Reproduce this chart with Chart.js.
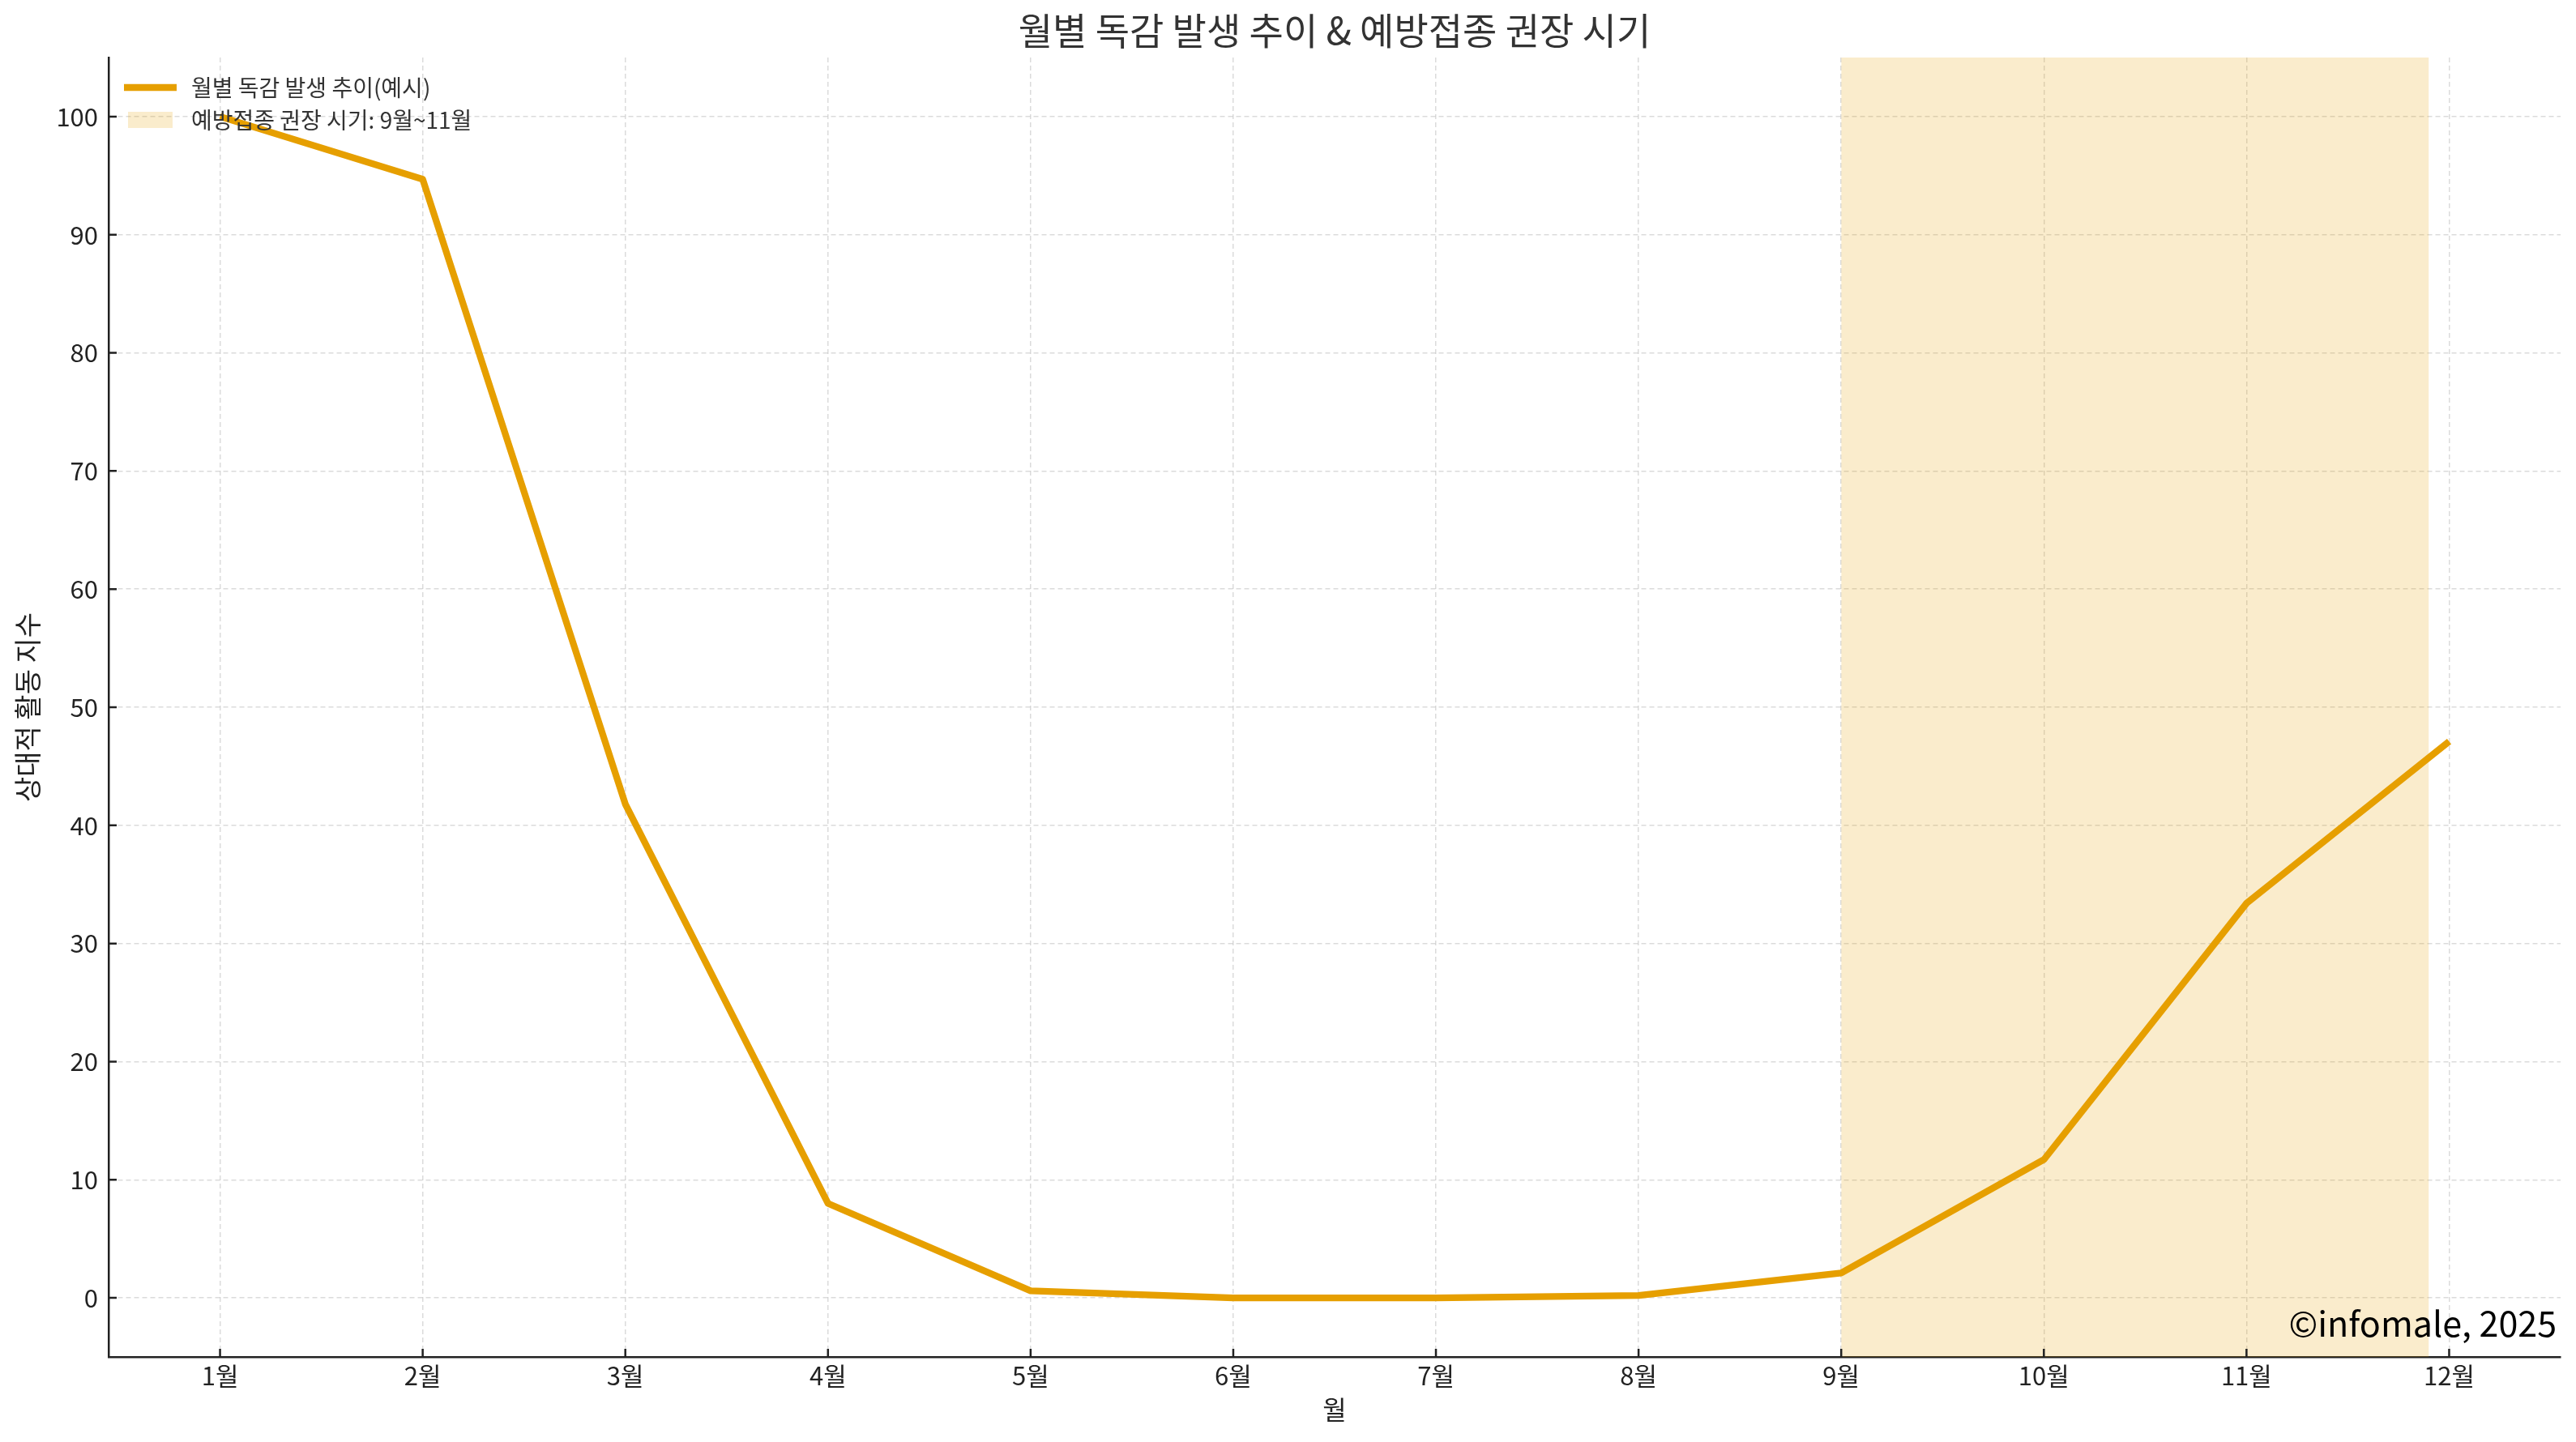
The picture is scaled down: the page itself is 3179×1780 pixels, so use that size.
<!DOCTYPE html>
<html>
<head>
<meta charset="utf-8">
<script src="https://cdn.jsdelivr.net/npm/chart.js@4/dist/chart.umd.min.js"></script>
<style>
  html, body { margin: 0; padding: 0; background: #fff; }
</style>
</head>
<body>
<canvas id="chart" width="3179" height="1780"></canvas>
<script>
// data
var months = ["1월", "2월", "3월", "4월", "5월", "6월", "7월", "8월", "9월", "10월", "11월", "12월"];
var monthNums = [1, 2, 3, 4, 5, 6, 7, 8, 9, 10, 11, 12];
var activity = [100, 94.7, 41.8, 8.0, 0.6, 0.0, 0.0, 0.2, 2.1, 11.7, 33.4, 47.1];
var yTickValues = [0, 10, 20, 30, 40, 50, 60, 70, 80, 90, 100];
var vaccineSpan = [9, 11.9];

var chartTitle = "월별 독감 발생 추이 & 예방접종 권장 시기";
var lineLabel = "월별 독감 발생 추이(예시)";
var spanLabel = "예방접종 권장 시기: 9월~11월";
var lineColor = "#E69F00";
var spanColor = "rgba(230,159,0,0.2)";
var gridColor = "rgba(170,170,170,0.42)";
var FONT = '"Noto Sans CJK KR", "Noto Sans", sans-serif';

var yMin = -5, yMax = 105;

var innerTicks = {
    id: "innerTicks",
    afterDraw: function(chart) {
        var ctx = chart.ctx, a = chart.chartArea;
        var x = chart.scales.x, y = chart.scales.y;
        ctx.save();
        ctx.strokeStyle = "#222";
        ctx.lineWidth = 2.5;
        ctx.beginPath();
        x.ticks.forEach(function(t) {
            var px = x.getPixelForValue(t.value);
            ctx.moveTo(px, a.bottom);
            ctx.lineTo(px, a.bottom - 10);
        });
        y.ticks.forEach(function(t) {
            var py = y.getPixelForValue(t.value);
            ctx.moveTo(a.left, py);
            ctx.lineTo(a.left + 10, py);
        });
        ctx.stroke();
        ctx.restore();
    }
};

// title centred over the axes, legend in the upper-left corner, watermark
var overlay = {
    id: "overlay",
    afterDraw: function(chart) {
        var ctx = chart.ctx, a = chart.chartArea;
        ctx.save();
        ctx.fillStyle = "#333";
        ctx.font = "46px " + FONT;
        ctx.textAlign = "center";
        ctx.textBaseline = "middle";
        ctx.fillText(chartTitle, (a.left + a.right) / 2, 38);

        // line entry
        ctx.strokeStyle = lineColor;
        ctx.lineWidth = 8.3;
        ctx.beginPath();
        ctx.moveTo(153, 108);
        ctx.lineTo(218, 108);
        ctx.stroke();
        // span entry
        ctx.fillStyle = spanColor;
        ctx.fillRect(158, 138, 55, 20);

        ctx.fillStyle = "#333";
        ctx.font = "28px " + FONT;
        ctx.textAlign = "left";
        ctx.fillText(lineLabel, 236, 108);
        ctx.fillText(spanLabel, 236, 148);

        ctx.fillStyle = "#000";
        ctx.font = "43px " + FONT;
        ctx.textAlign = "right";
        ctx.textBaseline = "alphabetic";
        ctx.fillText("©infomale, 2025", a.right - 5, a.bottom - 25);
        ctx.restore();
    }
};

var config = {
    type: "line",
    data: {
        datasets: [{
            label: lineLabel,
            data: monthNums.map(function(m, i) { return { x: m, y: activity[i] }; }),
            borderColor: lineColor,
            borderWidth: 8.3,
            borderJoinStyle: "round",
            pointRadius: 0,
            tension: 0,
            fill: false,
            order: 1
        }, {
            label: spanLabel,
            data: [{ x: vaccineSpan[0], y: yMax }, { x: vaccineSpan[1], y: yMax }],
            borderWidth: 0,
            borderColor: "rgba(0,0,0,0)",
            backgroundColor: spanColor,
            pointRadius: 0,
            fill: "start",
            order: 2
        }]
    },
    options: {
        responsive: false,
        animation: false,
        devicePixelRatio: 1,
        layout: { padding: { left: 0, right: 19, top: 71, bottom: 0 } },
        plugins: {
            legend: { display: false },
            tooltip: { enabled: false },
            title: { display: false }
        },
        scales: {
            x: {
                type: "linear",
                min: 0.45,
                max: 12.55,
                afterBuildTicks: function(scale) {
                    scale.ticks = monthNums.map(function(m) { return { value: m }; });
                },
                afterFit: function(scale) { scale.height = 105; },
                ticks: {
                    autoSkip: false,
                    maxRotation: 0,
                    padding: 5,
                    color: "#222",
                    font: { family: FONT, size: 31 },
                    callback: function(v) { return months[monthNums.indexOf(v)]; }
                },
                grid: {
                    drawTicks: false,
                    color: gridColor,
                    lineWidth: 1.5
                },
                border: { display: true, color: "#222", width: 2.5, dash: [6, 4] },
                title: {
                    display: true,
                    text: "월",
                    color: "#222",
                    font: { family: FONT, size: 32, lineHeight: 1.2 },
                    padding: { top: 0, bottom: 21 }
                }
            },
            y: {
                min: yMin,
                max: yMax,
                afterBuildTicks: function(scale) {
                    scale.ticks = yTickValues.map(function(v) { return { value: v }; });
                },
                afterFit: function(scale) { scale.width = 134; },
                ticks: {
                    padding: 13,
                    color: "#222",
                    font: { family: FONT, size: 31 }
                },
                grid: {
                    drawTicks: false,
                    color: gridColor,
                    lineWidth: 1.5
                },
                border: { display: true, color: "#222", width: 2.5, dash: [6, 4] },
                title: {
                    display: true,
                    text: "상대적 활동 지수",
                    color: "#222",
                    font: { family: FONT, size: 34, lineHeight: 1.2 },
                    padding: { top: 14, bottom: 0 }
                }
            }
        }
    },
    plugins: [innerTicks, overlay]
};

var ctx = document.getElementById("chart").getContext("2d");
var oneChart = new Chart(ctx, config);
</script>
</body>
</html>
